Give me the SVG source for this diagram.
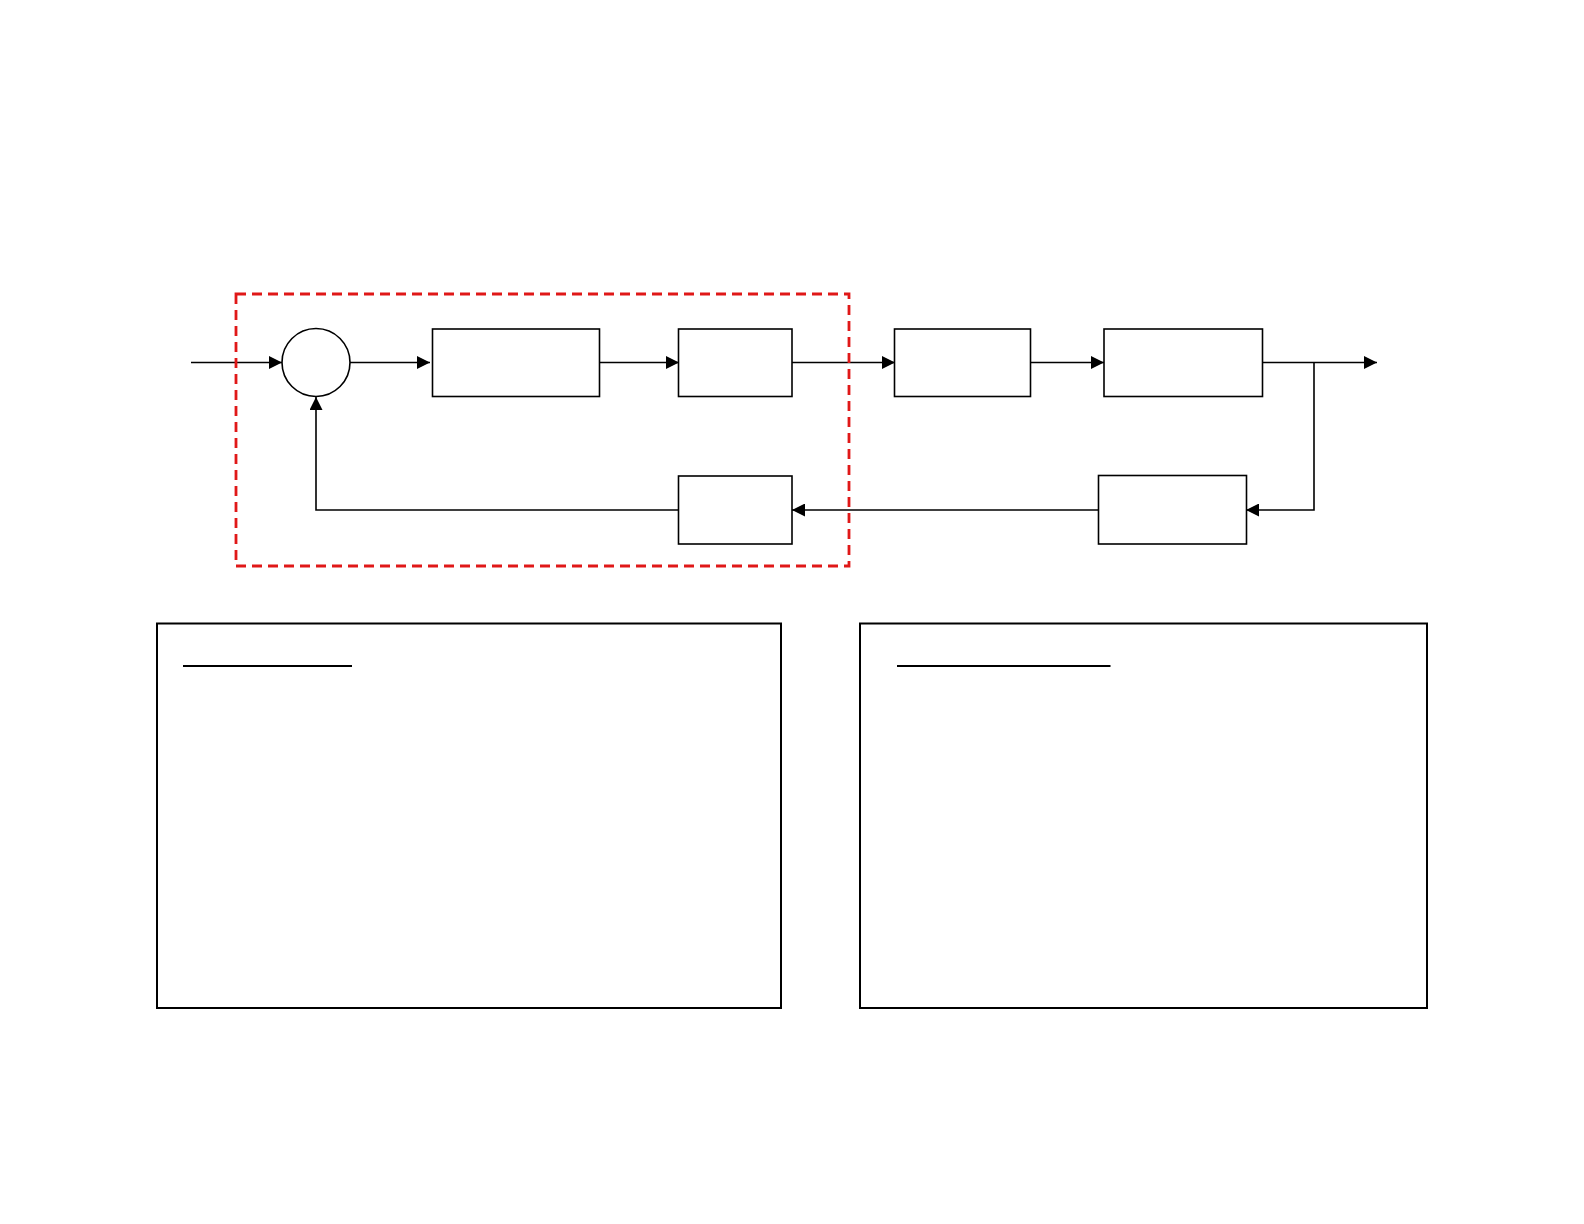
<svg xmlns="http://www.w3.org/2000/svg" width="1584" height="1224" viewBox="0 0 1584 1224">
<style>
.blk{fill:#fff;stroke:#000;stroke-width:1.6}
.panel{fill:#fff;stroke:#000;stroke-width:2}
.wire{fill:none;stroke:#000;stroke-width:1.6}
.ul{stroke:#000;stroke-width:2}
.group{fill:none;stroke:#e01818;stroke-width:2.8;stroke-dasharray:10 6}
</style>
<defs>
<marker id="arr" markerUnits="userSpaceOnUse" markerWidth="14" markerHeight="13" refX="13" refY="6.5" orient="auto">
<path d="M0,0 L13,6.5 L0,13 Z" fill="#000"/>
</marker>
</defs>
<rect width="1584" height="1224" fill="#fff"/>
<g id="connectors">
<path class="wire" d="M191,362.5 H282" marker-end="url(#arr)"/>
<path class="wire" d="M350,362.5 H430" marker-end="url(#arr)"/>
<path class="wire" d="M600,362.5 H679" marker-end="url(#arr)"/>
<path class="wire" d="M792,362.5 H895" marker-end="url(#arr)"/>
<path class="wire" d="M1031,362.5 H1104" marker-end="url(#arr)"/>
<path class="wire" d="M1263,362.5 H1377" marker-end="url(#arr)"/>
<path class="wire" d="M1314,362.5 V510 H1246" marker-end="url(#arr)"/>
<path class="wire" d="M1098,510 H792" marker-end="url(#arr)"/>
<path class="wire" d="M678,510 H316 V397" marker-end="url(#arr)"/>
</g>
<g id="sum"><circle class="blk" cx="316" cy="362.5" r="34"/></g>
<g id="block1"><rect class="blk" x="432.5" y="329" width="167" height="67.5"/></g>
<g id="block2"><rect class="blk" x="678.5" y="329" width="113.5" height="67.5"/></g>
<g id="block3"><rect class="blk" x="894.5" y="329" width="136" height="67.5"/></g>
<g id="block4"><rect class="blk" x="1104" y="329" width="158.5" height="67.5"/></g>
<g id="block5"><rect class="blk" x="678.5" y="476" width="113.5" height="68"/></g>
<g id="block6"><rect class="blk" x="1098.5" y="475.5" width="148" height="68.5"/></g>
<g id="group-boundary"><rect class="group" x="236" y="294" width="613" height="272"/></g>
<g id="panel-left">
<rect class="panel" x="157" y="623.5" width="624" height="384.5"/>
<line class="ul" x1="183" y1="666" x2="352" y2="666"/>
</g>
<g id="panel-right">
<rect class="panel" x="860" y="623.5" width="567" height="384.5"/>
<line class="ul" x1="897" y1="666" x2="1110.5" y2="666"/>
</g>
</svg>
